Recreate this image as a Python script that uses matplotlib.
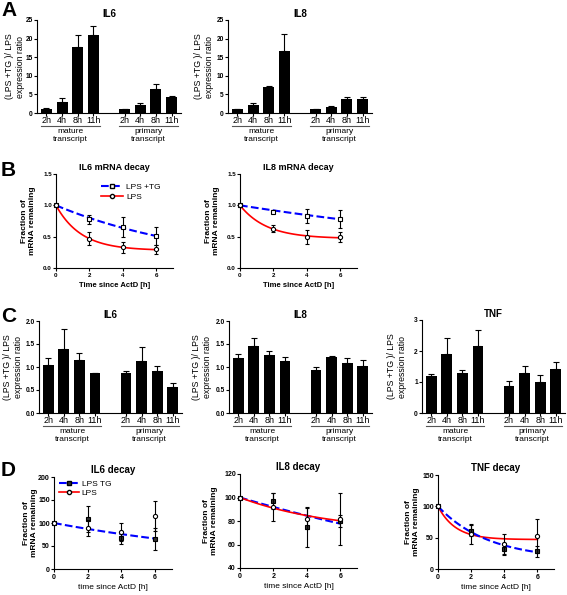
import numpy as np
import matplotlib
matplotlib.use("Agg")
import matplotlib.pyplot as plt
from matplotlib.lines import Line2D
from matplotlib import transforms

plt.rcParams['font.family'] = ['Liberation Sans', 'DejaVu Sans']
plt.rcParams['axes.linewidth'] = 0.8

W, H = 567, 595

# ---- data ----
times_lbl = ['2h', '4h', '8h', '11h', '2h', '4h', '8h', '11h']

a_il6 = [1.2, 2.9, 17.8, 20.9, 1.0, 2.1, 6.4, 4.4]
a_il6_err = [0.1, 1.0, 3.3, 2.6, 0.1, 0.6, 1.3, 0.2]
a_il8 = [1.0, 2.1, 7.0, 16.8, 1.1, 1.6, 3.7, 3.7]
a_il8_err = [0.1, 0.5, 0.3, 4.4, 0.1, 0.3, 0.7, 0.7]

c_il6 = [1.04, 1.39, 1.15, 0.86, 0.86, 1.12, 0.91, 0.57]
c_il6_err = [0.16, 0.44, 0.16, 0.02, 0.05, 0.32, 0.12, 0.09]
c_il8 = [1.19, 1.46, 1.26, 1.14, 0.94, 1.22, 1.09, 1.02]
c_il8_err = [0.10, 0.18, 0.09, 0.08, 0.06, 0.03, 0.10, 0.13]
c_tnf = [1.19, 1.89, 1.28, 2.15, 0.88, 1.29, 1.00, 1.41]
c_tnf_err = [0.07, 0.52, 0.10, 0.54, 0.16, 0.22, 0.22, 0.23]

t_decay = [0, 2, 4, 6]

b_il6_tg = [1.0, 0.78, 0.66, 0.51]
b_il6_tg_err = [0, 0.07, 0.16, 0.15]
b_il6_lps = [1.0, 0.47, 0.33, 0.30]
b_il6_lps_err = [0, 0.10, 0.09, 0.07]
b_il8_tg = [1.0, 0.90, 0.835, 0.78]
b_il8_tg_err = [0, 0.02, 0.11, 0.14]
b_il8_lps = [1.0, 0.63, 0.50, 0.49]
b_il8_lps_err = [0, 0.05, 0.11, 0.08]

d_il6_tg = [100, 108, 68, 66]
d_il6_tg_err = [0, 28, 13, 24]
d_il6_lps = [100, 89, 81, 115]
d_il6_lps_err = [0, 17, 20, 33]
d_il8_tg = [100, 97, 75, 80]
d_il8_tg_err = [0, 7, 17, 5]
d_il8_lps = [100, 92, 82, 82]
d_il8_lps_err = [0, 12, 9, 22]
d_tnf_tg = [100, 61, 32, 28]
d_tnf_tg_err = [0, 9, 9, 9]
d_tnf_lps = [100, 56, 40, 53]
d_tnf_lps_err = [0, 16, 16, 27]

# one-phase decay fits: (start, plateau, k)
fit_b_il6_tg = (1.0, 0.0, 0.112)
fit_b_il6_lps = (1.0, 0.28, 0.67)
fit_b_il8_tg = (1.0, 0.0, 0.042)
fit_b_il8_lps = (1.0, 0.47, 0.63)
fit_d_il6_tg = (100, 0, 0.069)
fit_d_il8_tg = (100, 0, 0.042)
fit_d_il8_lps = (100, 70, 0.18)
fit_d_tnf_tg = (100, 15, 0.33)
fit_d_tnf_lps = (100, 47, 0.95)

fig = plt.figure(figsize=(W / 100, H / 100), dpi=100)


def add_ax(x0, x1, y0, y1):
    return fig.add_axes([x0 / W, 1 - y1 / H, (x1 - x0) / W, (y1 - y0) / H])


def style(ax, ysize=4.5):
    ax.spines['top'].set_visible(False)
    ax.spines['right'].set_visible(False)
    ax.tick_params(axis='y', length=2, width=0.8, pad=1, labelsize=ysize)
    for lab in ax.get_yticklabels():
        lab.set_fontweight('bold')


def bar_panel(x0, x1, y0, y1, vals, errs, ymax, yticks, ylabs, title, lab_x):
    ax = add_ax(x0, x1, y0, y1)
    pos = [0, 1, 2, 3, 5, 6, 7, 8]
    ax.bar(pos, vals, width=0.7, color='black',
           yerr=[np.zeros(len(errs)), errs],
           error_kw=dict(ecolor='black', elinewidth=0.8, capsize=2, capthick=0.8))
    ax.set_xlim(-0.6, 8.6)
    ax.set_ylim(0, ymax)
    ax.set_yticks(yticks)
    ax.set_yticklabels(ylabs)
    ax.set_xticks(pos)
    ax.set_xticklabels(times_lbl, fontsize=6.5)
    ax.tick_params(axis='x', length=2, width=0.8, pad=0.5)
    style(ax, 4.8)
    ax.set_title(title, fontsize=7, fontweight='bold', pad=2)
    tr = transforms.offset_copy(ax.get_xaxis_transform(), fig=fig, y=-13, units='dots')
    tr2 = transforms.offset_copy(ax.get_xaxis_transform(), fig=fig, y=-15, units='dots')
    for a, b, name in [(-0.35, 3.4, 'mature\ntranscript'), (4.65, 8.4, 'primary\ntranscript')]:
        ax.plot([a, b], [0, 0], color='#555555', lw=0.8, transform=tr, clip_on=False)
        ax.text((a + b) / 2, 0, name, transform=tr2, ha='center', va='top',
                fontsize=6, linespacing=1.15)
    fig.text(lab_x / W, 1 - ((y0 + y1) / 2) / H, '(LPS +TG )/ LPS\nexpression ratio',
             rotation=90, ha='center', va='center', fontsize=6.3, linespacing=1.2)
    return ax


def curve(ax, fit, color, ls, lw):
    y0, p, k = fit
    tt = np.linspace(0, 6, 100)
    ax.plot(tt, p + (y0 - p) * np.exp(-k * tt), color=color, ls=ls, lw=lw, zorder=2)


def decay_panel(x0, x1, y0, y1, ylim, yticks, ylabs, title, tg, tg_err, lps, lps_err,
                fits, lab_x, sq_face, title_size, xbold, tick_size):
    ax = add_ax(x0, x1, y0, y1)
    for fit, color, ls, lw in fits:
        curve(ax, fit, color, ls, lw)
    ax.errorbar(t_decay, tg, yerr=tg_err, fmt='s', ms=3, mfc=sq_face, mec='black',
                mew=0.8, ecolor='black', elinewidth=0.8, capsize=1.5, capthick=0.8,
                zorder=3, clip_on=False)
    ax.errorbar(t_decay, lps, yerr=lps_err, fmt='o', ms=3, mfc='white', mec='black',
                mew=0.8, ecolor='black', elinewidth=0.8, capsize=1.5, capthick=0.8,
                zorder=4, clip_on=False)
    ax.set_xlim(0, 7)
    ax.set_ylim(*ylim)
    ax.set_xticks([0, 2, 4, 6])
    ax.set_yticks(yticks)
    ax.set_yticklabels(ylabs)
    ax.tick_params(axis='x', length=2, width=0.8, pad=1.5, labelsize=tick_size)
    style(ax, tick_size)
    for lab in ax.get_xticklabels():
        lab.set_fontweight('bold')
    ax.set_title(title, fontsize=title_size, fontweight='bold', pad=3)
    if xbold:
        ax.set_xlabel('Time since ActD [h]', fontsize=5.5, fontweight='bold', labelpad=3)
    else:
        ax.set_xlabel('time since ActD [h]', fontsize=6, labelpad=2)
    fig.text(lab_x / W, 1 - ((y0 + y1) / 2) / H, 'Fraction of\nmRNA remaining',
             rotation=90, ha='center', va='center', fontsize=6, fontweight='bold',
             linespacing=1.2)
    return ax


# ---- panel A ----
ticks_a = [0, 5, 10, 15, 20, 25]
bar_panel(37, 181, 20, 113, a_il6, a_il6_err, 25, ticks_a, [str(t) for t in ticks_a], 'IL6', 15)
bar_panel(228, 372, 20, 113, a_il8, a_il8_err, 25, ticks_a, [str(t) for t in ticks_a], 'IL8', 204)

# ---- panel B ----
ticks_b = [0, 0.5, 1.0, 1.5]
labs_b = ['0.0', '0.5', '1.0', '1.5']
decay_panel(56, 173, 174, 268, (0, 1.5), ticks_b, labs_b, 'IL6 mRNA decay',
            b_il6_tg, b_il6_tg_err, b_il6_lps, b_il6_lps_err,
            [(fit_b_il6_tg, '#0000ff', '--', 1.5), (fit_b_il6_lps, '#ff0000', '-', 1.2)],
            29, 'white', 6.5, True, 4.5)
decay_panel(240, 357, 174, 268, (0, 1.5), ticks_b, labs_b, 'IL8 mRNA decay',
            b_il8_tg, b_il8_tg_err, b_il8_lps, b_il8_lps_err,
            [(fit_b_il8_tg, '#0000ff', '--', 1.5), (fit_b_il8_lps, '#ff0000', '-', 1.2)],
            213, 'white', 6.5, True, 4.5)
hb = [Line2D([], [], color='#0000ff', ls='--', lw=1.5, marker='s', ms=3, mfc='white', mec='black'),
      Line2D([], [], color='#ff0000', ls='-', lw=1.2, marker='o', ms=3, mfc='white', mec='black')]
fig.legend(hb, ['LPS +TG', 'LPS'], loc='upper left', bbox_to_anchor=(101 / W, 1 - 183 / H),
           frameon=False, fontsize=6, handlelength=2.6, handletextpad=0.4, labelspacing=0.3,
           borderpad=0, borderaxespad=0)

# ---- panel C ----
ticks_c = [0, 0.5, 1.0, 1.5, 2.0]
labs_c = ['0.0', '0.5', '1.0', '1.5', '2.0']
bar_panel(39, 182, 321, 413, c_il6, c_il6_err, 2.0, ticks_c, labs_c, 'IL6', 13)
bar_panel(229, 372, 321, 413, c_il8, c_il8_err, 2.0, ticks_c, labs_c, 'IL8', 202)
bar_panel(422, 565, 320, 413, c_tnf, c_tnf_err, 3, [0, 1, 2, 3], ['0', '1', '2', '3'], 'TNF', 397)

# ---- panel D ----
decay_panel(54, 172, 477, 569, (0, 200), [0, 50, 100, 150, 200],
            ['0', '50', '100', '150', '200'], 'IL6 decay',
            d_il6_tg, d_il6_tg_err, d_il6_lps, d_il6_lps_err,
            [(fit_d_il6_tg, '#0000ff', '--', 1.5)], 31, '#333333', 7, False, 5)
decay_panel(240, 357, 474, 568, (40, 120), [40, 60, 80, 100, 120],
            ['40', '60', '80', '100', '120'], 'IL8 decay',
            d_il8_tg, d_il8_tg_err, d_il8_lps, d_il8_lps_err,
            [(fit_d_il8_tg, '#0000ff', '--', 1.5), (fit_d_il8_lps, '#ff0000', '-', 1.2)],
            210, '#333333', 7, False, 5)
decay_panel(438, 554, 475, 569, (0, 150), [0, 50, 100, 150],
            ['0', '50', '100', '150'], 'TNF decay',
            d_tnf_tg, d_tnf_tg_err, d_tnf_lps, d_tnf_lps_err,
            [(fit_d_tnf_lps, '#ff0000', '-', 1.2), (fit_d_tnf_tg, '#0000ff', '--', 1.5)],
            412, '#333333', 7, False, 5)
hd = [Line2D([], [], color='#0000ff', ls='--', lw=1.5, marker='s', ms=3, mfc='#333333', mec='black'),
      Line2D([], [], color='#ff0000', ls='-', lw=1.2, marker='o', ms=3, mfc='white', mec='black')]
fig.legend(hd, ['LPS TG', 'LPS'], loc='upper left', bbox_to_anchor=(59 / W, 1 - 480 / H),
           frameon=False, fontsize=6, handlelength=2.4, handletextpad=0.3, labelspacing=0.2,
           borderpad=0, borderaxespad=0)

# panel letters
for letter, y in [('A', 10), ('B', 170), ('C', 316), ('D', 470)]:
    fig.text(1 / W, 1 - y / H, letter, fontsize=15, fontweight='bold', ha='left', va='center')

fig.savefig('out.png', dpi=100)
